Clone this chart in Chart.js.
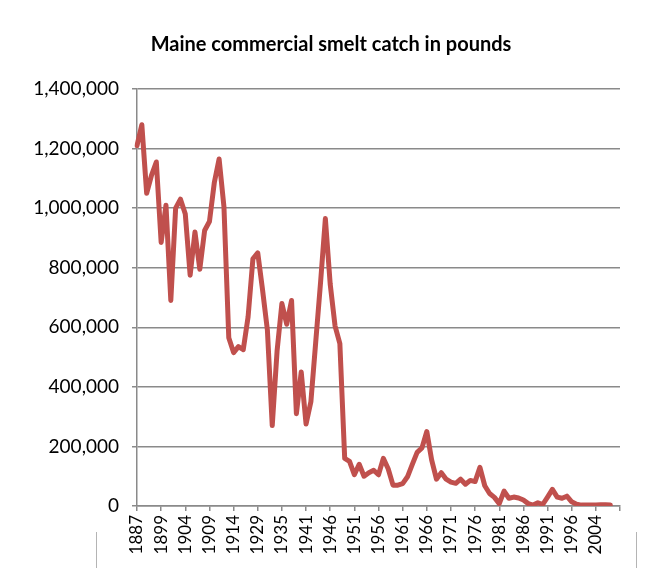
<!DOCTYPE html>
<html>
<head>
<meta charset="utf-8">
<title>Maine commercial smelt catch</title>
<script src="https://cdn.jsdelivr.net/npm/chart.js@4.4.1/dist/chart.umd.min.js"></script>
<style>
  html, body { margin: 0; padding: 0; background: #fff; }
</style>
</head>
<body>
<canvas id="smelt" width="652" height="568"></canvas>
<script>
// Landing years (the series skips a few years, so the axis is categorical)
const years = [
  1887, 1888, 1889, 1890, 1898, 1899, 1900, 1901, 1902, 1903,
  1904, 1905, 1906, 1907, 1908, 1909, 1910, 1911, 1912, 1913,
  1914, 1919, 1924, 1926, 1928, 1929, 1930, 1931, 1932, 1933,
  1935, 1936, 1937, 1938, 1939, 1941, 1942, 1943, 1944, 1945,
  1946, 1947, 1948, 1949, 1950, 1951, 1952, 1953, 1954, 1955,
  1956, 1957, 1958, 1959, 1960, 1961, 1962, 1963, 1964, 1965,
  1966, 1967, 1968, 1969, 1970, 1971, 1972, 1973, 1974, 1975,
  1976, 1977, 1978, 1979, 1980, 1981, 1982, 1983, 1984, 1985,
  1986, 1987, 1988, 1989, 1990, 1991, 1992, 1993, 1994, 1995,
  1996, 1997, 1998, 2000, 2002, 2004, 2005, 2006, 2007, 2008,
  2009
];

// Commercial catch, pounds (null = no figure reported)
const smeltCatch = [
  1210000, 1280000, 1050000, 1110000, 1155000, 885000, 1010000, 690000, 1000000, 1030000,
  980000, 775000, 920000, 795000, 925000, 955000, 1085000, 1165000, 1005000, 565000,
  515000, 535000, 525000, 635000, 830000, 850000, 725000, 590000, 270000, 520000,
  680000, 610000, 690000, 310000, 450000, 275000, 350000, 550000, 750000, 965000,
  745000, 605000, 545000, 160000, 150000, 105000, 140000, 100000, 112000, 120000,
  105000, 160000, 125000, 70000, 70000, 75000, 98000, 140000, 180000, 195000,
  250000, 155000, 90000, 112000, 90000, 80000, 76000, 90000, 73000, 86000,
  82000, 130000, 68000, 42000, 29000, 8000, 50000, 26000, 30000, 27000,
  20000, 8000, 3000, 11000, 5000, 30000, 56000, 30000, 26000, 33000,
  14000, 6000, 3000, 3000, 3000, 3000, 4000, 4000, 3000, null,
  null
];

const chartTitle = 'Maine commercial smelt catch in pounds';
const yMin = 0;
const yMax = 1400000;
const yStep = 200000;
const labelEvery = 5;

const FONT = 'Lato, "Liberation Sans", sans-serif';
const GRID = '#8a8a8a';
const LINE = '#c0504d';

// Title sits a little right of the canvas centre, so it is drawn by hand
const titleText = {
  id: 'titleText',
  afterDraw(chart) {
    const { ctx } = chart;
    ctx.save();
    ctx.font = `bold 20px ${FONT}`;
    ctx.fillStyle = '#000';
    ctx.textAlign = 'center';
    ctx.textBaseline = 'middle';
    ctx.fillText(chartTitle, 331, 45);
    ctx.restore();
  }
};

// thin frame edges that show below the axis labels
const frameEdges = {
  id: 'frameEdges',
  afterDraw(chart) {
    const { ctx, height } = chart;
    ctx.save();
    ctx.strokeStyle = '#b4b4b4';
    ctx.lineWidth = 1;
    ctx.beginPath();
    ctx.moveTo(96.5, 532); ctx.lineTo(96.5, height);
    ctx.moveTo(636.5, 532); ctx.lineTo(636.5, height);
    ctx.stroke();
    ctx.restore();
  }
};

new Chart(document.getElementById('smelt'), {
  type: 'line',
  data: {
    labels: years,
    datasets: [{
      label: 'Pounds',
      data: smeltCatch,
      borderColor: LINE,
      backgroundColor: LINE,
      borderWidth: 5,
      borderJoinStyle: 'round',
      borderCapStyle: 'round',
      pointRadius: 0,
      tension: 0,
      spanGaps: false
    }]
  },
  options: {
    responsive: false,
    animation: false,
    layout: { padding: { left: 0, right: 32, top: 89, bottom: 0 } },
    plugins: {
      legend: { display: false },
      tooltip: { enabled: false },
      title: { display: false }
    },
    scales: {
      x: {
        type: 'category',
        offset: false,
        afterFit: s => { s.height = 62; },
        grid: {
          drawOnChartArea: false,
          drawTicks: true,
          tickLength: 5,
          lineWidth: 1.5,
          color: ctx => (ctx.index % labelEvery === 0 ? GRID : 'rgba(0,0,0,0)')
        },
        border: { color: GRID, width: 1.5 },
        ticks: {
          autoSkip: false,
          minRotation: 90,
          maxRotation: 90,
          padding: 4,
          color: '#000',
          font: { family: FONT, size: 17 },
          callback: (v, i) => (i % labelEvery === 0 && smeltCatch[i] != null ? String(years[i]) : '')
        }
      },
      y: {
        min: yMin,
        max: yMax,
        afterFit: s => { s.width = 137; },
        grid: {
          color: GRID,
          lineWidth: 1.5,
          drawTicks: true,
          tickLength: 5
        },
        border: { color: GRID, width: 1.5 },
        ticks: {
          stepSize: yStep,
          padding: 13,
          color: '#000',
          font: { family: FONT, size: 19 },
          callback: v => v.toLocaleString('en-US')
        }
      }
    }
  },
  plugins: [titleText, frameEdges]
});
</script>
</body>
</html>
